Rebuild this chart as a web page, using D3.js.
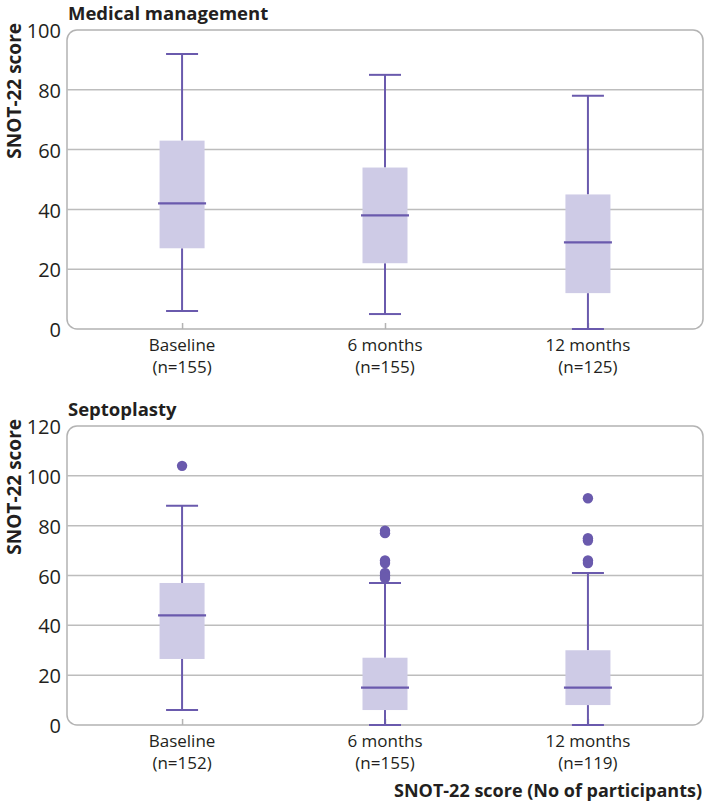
<!DOCTYPE html>
<html>
<head>
<meta charset="utf-8">
<script src="https://cdn.jsdelivr.net/npm/d3@7"></script>
<style>
  html, body { margin: 0; padding: 0; background: #ffffff; }
  svg { display: block; }
</style>
</head>
<body>
<svg id="chart" width="705" height="803"></svg>
<script>
// ---------- data ----------
const categories = ["Baseline", "6 months", "12 months"];

const medicalN = [155, 155, 125];
const medicalLow = [6, 5, 0];
const medicalQ1 = [27, 22, 12];
const medicalMedian = [42, 38, 29];
const medicalQ3 = [63, 54, 45];
const medicalHigh = [92, 85, 78];
const medicalOutliers = [[], [], []];
const medicalTicks = [0, 20, 40, 60, 80, 100];

const septoN = [152, 155, 119];
const septoLow = [6, 0, 0];
const septoQ1 = [26.5, 6, 8];
const septoMedian = [44, 15, 15];
const septoQ3 = [57, 27, 30];
const septoHigh = [88, 57, 61];
const septoOutliers = [[104], [78, 77, 66, 65, 61, 60, 59], [91, 75, 74, 66, 65]];
const septoTicks = [0, 20, 40, 60, 80, 100, 120];

const panelTitles = ["Medical management", "Septoplasty"];
const yTitle = "SNOT-22 score";
const xTitle = "SNOT-22 score (No of participants)";

// ---------- style ----------
const purple = "#6a5aad";
const boxFill = "#cecbe6";
const gridColor = "#bdbdbd";
const frameColor = "#b3b3b3";
const textColor = "#231f20";
const FONT = "'Open Sans', 'Noto Sans', sans-serif";

const svg = d3.select("#chart");

const left = 67, right = 703;
const x = d3.scalePoint().domain(categories).range([left, right]).padding(0.567);

function drawPanel(cfg) {
  const g = svg.append("g");
  const y = d3.scaleLinear().domain([0, cfg.max]).range([cfg.bottom, cfg.top]);

  // frame
  g.append("rect")
    .attr("x", left).attr("y", cfg.top)
    .attr("width", right - left).attr("height", cfg.bottom - cfg.top)
    .attr("rx", 10).attr("ry", 10)
    .attr("fill", "none").attr("stroke", frameColor).attr("stroke-width", 1.5);

  // gridlines
  g.selectAll("line.grid")
    .data(cfg.ticks.filter(t => t > 0 && t < cfg.max))
    .join("line")
    .attr("x1", left).attr("x2", right)
    .attr("y1", d => y(d)).attr("y2", d => y(d))
    .attr("stroke", gridColor).attr("stroke-width", 1.5);

  // y axis labels via d3 axis
  const yAxis = d3.axisLeft(y).tickValues(cfg.ticks).tickSize(0).tickPadding(6);
  const ya = g.append("g").attr("transform", `translate(${left},0)`).call(yAxis);
  ya.select(".domain").remove();
  ya.selectAll("text")
    .attr("font-family", FONT).attr("font-size", 20)
    .attr("fill", textColor).attr("dy", "0.38em");

  // x ticks (inward)
  const xAxis = d3.axisBottom(x).tickSize(-6).tickPadding(0).tickFormat("");
  const xa = g.append("g").attr("transform", `translate(0,${cfg.bottom})`).call(xAxis);
  xa.select(".domain").remove();
  xa.selectAll("line").attr("stroke", frameColor).attr("stroke-width", 1.5);

  // category labels (two separate lines)
  g.selectAll("text.xl1").data(categories).join("text")
    .attr("class", "xl1")
    .attr("x", d => x(d)).attr("y", cfg.bottom + 22)
    .attr("text-anchor", "middle")
    .attr("font-family", FONT).attr("font-size", 17).attr("fill", textColor)
    .text(d => d);
  g.selectAll("text.xl2").data(categories).join("text")
    .attr("class", "xl2")
    .attr("x", d => x(d)).attr("y", cfg.bottom + 44)
    .attr("text-anchor", "middle")
    .attr("font-family", FONT).attr("font-size", 17).attr("fill", textColor)
    .text((d, i) => `(n=${cfg.n[i]})`);

  // boxes
  const bw = 45, cw = 32, mw = 48;
  categories.forEach((c, i) => {
    const cx = x(c);
    g.append("line").attr("x1", cx).attr("x2", cx)
      .attr("y1", y(cfg.high[i])).attr("y2", y(cfg.q3[i]))
      .attr("stroke", purple).attr("stroke-width", 2);
    g.append("line").attr("x1", cx).attr("x2", cx)
      .attr("y1", y(cfg.q1[i])).attr("y2", y(cfg.low[i]))
      .attr("stroke", purple).attr("stroke-width", 2);
    [cfg.high[i], cfg.low[i]].forEach(v => {
      g.append("line").attr("x1", cx - cw / 2).attr("x2", cx + cw / 2)
        .attr("y1", y(v)).attr("y2", y(v))
        .attr("stroke", purple).attr("stroke-width", 2);
    });
    g.append("rect").attr("x", cx - bw / 2).attr("width", bw)
      .attr("y", y(cfg.q3[i])).attr("height", y(cfg.q1[i]) - y(cfg.q3[i]))
      .attr("fill", boxFill);
    g.append("line").attr("x1", cx - mw / 2).attr("x2", cx + mw / 2)
      .attr("y1", y(cfg.median[i])).attr("y2", y(cfg.median[i]))
      .attr("stroke", purple).attr("stroke-width", 2.2);
    g.selectAll(null).data(cfg.outliers[i]).join("circle")
      .attr("cx", cx).attr("cy", d => y(d)).attr("r", 5.2)
      .attr("fill", purple);
  });

  // panel title
  g.append("text").attr("x", 68).attr("y", cfg.top - 10)
    .attr("font-family", FONT).attr("font-weight", "bold").attr("font-size", 18.5)
    .attr("fill", textColor).text(cfg.title);

  // y title
  g.append("text")
    .attr("transform", `translate(20.5,${cfg.top - 7}) rotate(-90)`)
    .attr("text-anchor", "end")
    .attr("font-family", FONT).attr("font-weight", "bold").attr("font-size", 19)
    .attr("fill", textColor).text(yTitle);
}

drawPanel({
  title: panelTitles[0], top: 30, bottom: 329, max: 100, ticks: medicalTicks,
  n: medicalN, low: medicalLow, q1: medicalQ1, median: medicalMedian,
  q3: medicalQ3, high: medicalHigh, outliers: medicalOutliers
});
drawPanel({
  title: panelTitles[1], top: 426, bottom: 725, max: 120, ticks: septoTicks,
  n: septoN, low: septoLow, q1: septoQ1, median: septoMedian,
  q3: septoQ3, high: septoHigh, outliers: septoOutliers
});

// x axis title
svg.append("text").attr("x", 702).attr("y", 797)
  .attr("text-anchor", "end")
  .attr("font-family", FONT).attr("font-weight", "bold").attr("font-size", 18)
  .attr("fill", textColor).text(xTitle);
</script>
</body>
</html>
